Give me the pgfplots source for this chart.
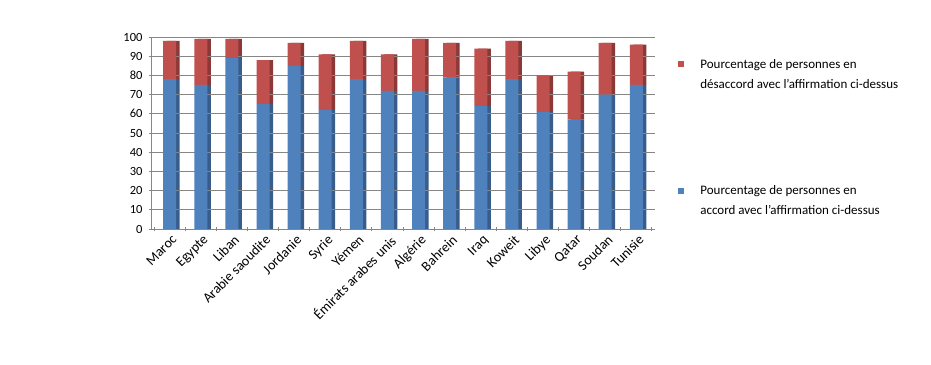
\documentclass[border=0pt]{standalone}
\usepackage{fontspec}
\setmainfont{Carlito}
\usepackage{pgfplots}
\pgfplotsset{compat=1.18}
\definecolor{exblue}{HTML}{4F81BD}
\definecolor{exred}{HTML}{C0504D}
\definecolor{exbluedark}{HTML}{385D8A}
\definecolor{exreddark}{HTML}{8C3836}
\definecolor{gridc}{HTML}{868686}
\pgfplotsset{
  common/.style={
    at={(151pt,135pt)}, anchor=south west,
    scale only axis, width=504pt, height=192pt,
    ybar stacked, bar width=13pt,
    xmin=-0.6, xmax=15.6, ymin=0, ymax=100,
  }
}
\begin{document}
\begin{tikzpicture}[x=1pt,y=1pt]
\path[use as bounding box] (0,0) rectangle (931,364);
% side faces (depth) of the bars
\begin{axis}[common, hide axis, bar shift=3.5pt]
\addplot[fill=exbluedark, draw=none] coordinates {
(0,78) (1,75) (2,89) (3,65) (4,85) (5,62) (6,78) (7,72)
(8,72) (9,79) (10,64) (11,78) (12,61) (13,57) (14,70) (15,75)};
\addplot[fill=exreddark, draw=none] coordinates {
(0,20) (1,24) (2,10) (3,23) (4,12) (5,29) (6,20) (7,19)
(8,27) (9,18) (10,30) (11,20) (12,19) (13,25) (14,27) (15,21)};
\end{axis}
\begin{axis}[common,
  xtick={0,...,15},
  xticklabels={Maroc,Egypte,Liban,Arabie saoudite,Jordanie,Syrie,Yémen,Émirats arabes unis,Algérie,Bahrein,Iraq,Koweit,Libye,Qatar,Soudan,Tunisie},
  x tick label style={rotate=45, anchor=north east, inner sep=0pt, yshift=-3pt, xshift=-1pt, font=\fontsize{14}{16}\selectfont},
  major x tick style={draw=none},
  minor xtick={-0.5,0.5,...,15.5},
  minor x tick style={gridc, thick},
  minor tick length=4pt,
  ytick={0,10,...,100},
  y tick label style={font=\fontsize{12.5}{14}\selectfont, xshift=-3pt},
  /pgf/number format/assume math mode=true,
  ymajorgrids, grid style={gridc, line width=0.9pt},
  axis lines=left, axis line style={-, gridc, line width=0.9pt},
  major tick length=4pt, tick style={gridc, thick},
  xtick pos=bottom, ytick pos=left,
  reverse legend,
  legend style={at={(1.04,0.905)}, anchor=north west, draw=none, fill=none,
    row sep=92pt, font=\fontsize{13}{20}\selectfont,
    cells={anchor=west, align=left}},
  legend image code/.code={\fill[#1] (0pt,7.5pt) rectangle (6pt,13.5pt);},
  /tikz/every odd column/.style={column sep=14pt},
]
\addplot[fill=exblue, draw=none] coordinates {
(0,78) (1,75) (2,89) (3,65) (4,85) (5,62) (6,78) (7,72)
(8,72) (9,79) (10,64) (11,78) (12,61) (13,57) (14,70) (15,75)};
\addlegendentry{Pourcentage de personnes en\\accord avec l'affirmation ci-dessus}
\addplot[fill=exred, draw=none] coordinates {
(0,20) (1,24) (2,10) (3,23) (4,12) (5,29) (6,20) (7,19)
(8,27) (9,18) (10,30) (11,20) (12,19) (13,25) (14,27) (15,21)};
\addlegendentry{Pourcentage de personnes en\\désaccord avec l'affirmation ci-dessus}
\end{axis}
\end{tikzpicture}
\end{document}
